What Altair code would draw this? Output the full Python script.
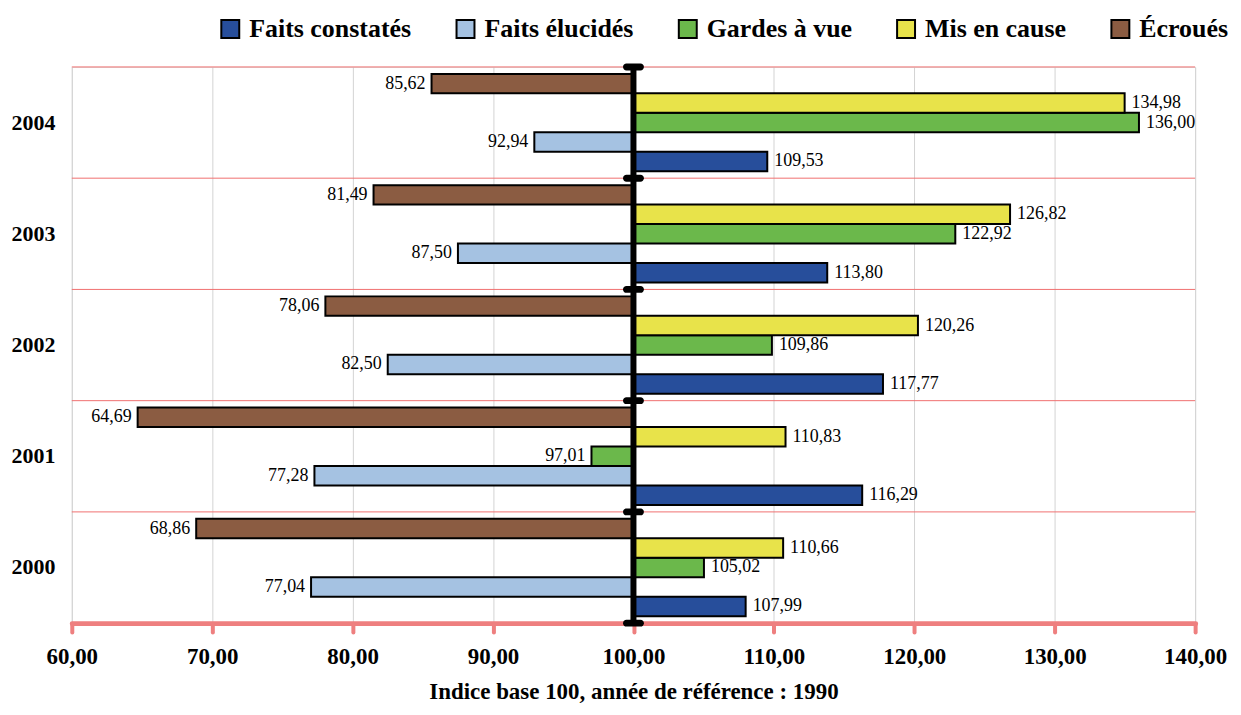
import altair as alt
import pandas as pd

# ---- data ----
years = ["2000", "2001", "2002", "2003", "2004"]
series = ["Faits constatés", "Faits élucidés", "Gardes à vue", "Mis en cause", "Écroués"]
faits_constates = [107.99, 116.29, 117.77, 113.80, 109.53]
faits_elucides = [77.04, 77.28, 82.50, 87.50, 92.94]
gardes_a_vue = [105.02, 97.01, 109.86, 122.92, 136.00]
mis_en_cause = [110.66, 110.83, 120.26, 126.82, 134.98]
ecroues = [68.86, 64.69, 78.06, 81.49, 85.62]
colors = ["#274E9B", "#A5C2E2", "#6BB84B", "#E8E34A", "#8B5C42"]
x_ticks = [60, 70, 80, 90, 100, 110, 120, 130, 140]
base_value = 100
x_title = "Indice base 100, année de référence : 1990"

year_order = years[::-1]
offset_order = ["Écroués", "Mis en cause", "Gardes à vue", "Faits élucidés", "Faits constatés"]

rows = []
for s, vals in zip(series, [faits_constates, faits_elucides, gardes_a_vue, mis_en_cause, ecroues]):
    for y, v in zip(years, vals):
        rows.append({"year": y, "series": s, "value": v, "base": base_value})
df = pd.DataFrame(rows)
years_df = pd.DataFrame({"year": years, "base": [base_value] * len(years)})
bottom_df = pd.DataFrame({"year": [years[0]], "base": [base_value]})
base_df = pd.DataFrame({"base": [base_value]})

SERIF = "Liberation Serif"
PINK = "#EE7F7F"

x_axis = alt.Axis(
    values=x_ticks,
    labelExpr="replace(format(datum.value, '.2f'), '.', ',')",
    labelFont=SERIF, labelFontWeight="bold", labelFontSize=23, labelColor="black",
    labelPadding=13, labelFlush=False,
    domainColor=PINK, domainWidth=5, domainCap="round",
    tickColor=PINK, tickWidth=4, tickSize=9, tickCap="round",
    gridColor="#D3D3D3", gridWidth=1,
    title=x_title, titleFont=SERIF, titleFontSize=23, titleFontWeight="bold",
    titleColor="black", titlePadding=13,
)
x_scale = alt.Scale(domain=[60, 140], nice=False, zero=False)
y_axis = alt.Axis(
    labelFont=SERIF, labelFontWeight="bold", labelFontSize=22, labelColor="black",
    labelPadding=17, domain=False, ticks=False, grid=False, title=None,
)
y_scale = alt.Scale(paddingInner=0, paddingOuter=0)
yoff = alt.YOffset("series:N", sort=offset_order,
                   scale=alt.Scale(paddingInner=0, paddingOuter=0.357))

# pink horizontal separators at band starts
sep = alt.Chart(years_df).mark_rule(color="#F07070", strokeWidth=1).encode(
    y=alt.Y("year:N", sort=year_order, bandPosition=0, scale=y_scale, axis=y_axis),
)

bars = alt.Chart(df).mark_bar(stroke="black", strokeWidth=2, opacity=1).encode(
    y=alt.Y("year:N", sort=year_order, scale=y_scale, axis=y_axis),
    yOffset=yoff,
    x=alt.X("value:Q", scale=x_scale, axis=x_axis),
    x2="base:Q",
    color=alt.Color(
        "series:N",
        scale=alt.Scale(domain=series, range=colors),
        legend=alt.Legend(
            orient="none", legendX=146, legendY=-51, direction="horizontal", columns=5,
            title=None, symbolType="square", symbolSize=324,
            symbolStrokeColor="black", symbolStrokeWidth=2, symbolOpacity=1,
            labelFont=SERIF, labelFontWeight="bold", labelFontSize=26, labelColor="black",
            labelOffset=6, columnPadding=41, labelLimit=400,
        ),
    ),
)

vline = alt.Chart(base_df).mark_rule(color="black", strokeWidth=6).encode(
    x=alt.X("base:Q", scale=x_scale, axis=x_axis),
)

cap_shape = "M-0.65,-0.32L0.65,-0.32A0.32,0.32 0 0 1 0.65,0.32L-0.65,0.32A0.32,0.32 0 0 1 -0.65,-0.32Z"
caps_top = alt.Chart(years_df).mark_point(shape=cap_shape, size=467, filled=True,
                                          color="black", opacity=1).encode(
    x=alt.X("base:Q", scale=x_scale, axis=x_axis),
    y=alt.Y("year:N", sort=year_order, bandPosition=0, scale=y_scale, axis=y_axis),
)
caps_bottom = alt.Chart(bottom_df).mark_point(shape=cap_shape, size=467, filled=True,
                                              color="black", opacity=1).encode(
    x=alt.X("base:Q", scale=x_scale, axis=x_axis),
    y=alt.Y("year:N", sort=year_order, bandPosition=1, scale=y_scale, axis=y_axis),
)

label_expr = "replace(format(datum.value, '.2f'), '.', ',')"
text_pos = alt.Chart(df).transform_filter("datum.value >= 100").transform_calculate(
    label=label_expr
).mark_text(align="left", baseline="middle", dx=7, font=SERIF, fontSize=18, color="black").encode(
    y=alt.Y("year:N", sort=year_order, scale=y_scale, axis=y_axis),
    yOffset=yoff,
    x=alt.X("value:Q", scale=x_scale, axis=x_axis),
    text="label:N",
)
text_neg = alt.Chart(df).transform_filter("datum.value < 100").transform_calculate(
    label=label_expr
).mark_text(align="right", baseline="middle", dx=-6, font=SERIF, fontSize=18, color="black").encode(
    y=alt.Y("year:N", sort=year_order, scale=y_scale, axis=y_axis),
    yOffset=yoff,
    x=alt.X("value:Q", scale=x_scale, axis=x_axis),
    text="label:N",
)

chart = alt.layer(sep, bars, vline, caps_top, caps_bottom, text_pos, text_neg).properties(
    width=1127,
    height=558,
    autosize=alt.AutoSizeParams(type="none"),
    padding={"left": 64, "top": 58, "right": 38, "bottom": 83},
).configure_view(stroke=None).configure(background="white")

chart.save("out.html", embed_options={"renderer": "svg", "actions": False})
